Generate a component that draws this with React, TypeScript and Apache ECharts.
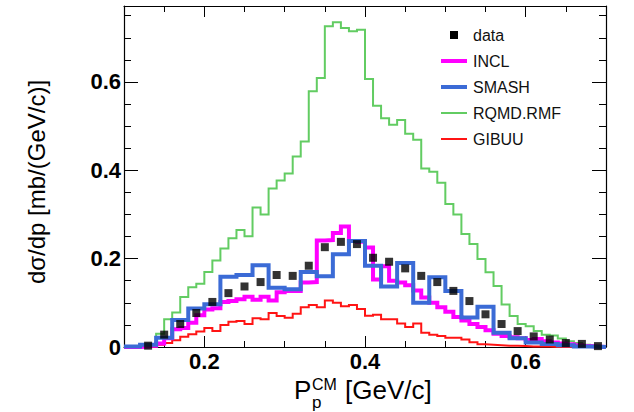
import React, { useEffect, useRef } from "react";
import * as echarts from "echarts";

// ---- data ----
const FINE_START = 0.1; // GeV/c, first edge of 0.01-wide bins
const FINE_WIDTH = 0.01;
const COARSE_START = 0.1; // first edge of 0.02-wide bins
const COARSE_WIDTH = 0.02;

// RQMD.RMF, 0.01 bins from 0.10 to 0.70
const rqmdValues = [
  0, 0, 0.001, 0.006, 0.03, 0.063, 0.078, 0.113, 0.135, 0.143,
  0.17, 0.196, 0.223, 0.246, 0.265, 0.251, 0.316, 0.3, 0.359, 0.377,
  0.393, 0.431, 0.465, 0.579, 0.609, 0.726, 0.735, 0.722, 0.715, 0.718,
  0.607, 0.546, 0.518, 0.503, 0.514, 0.483, 0.469, 0.404, 0.397, 0.372,
  0.324, 0.3, 0.256, 0.233, 0.199, 0.169, 0.138, 0.096, 0.07, 0.052,
  0.047, 0.036, 0.028, 0.026, 0.019, 0.013, 0.009, 0.005, 0.003, 0.002,
];

// GIBUU, 0.01 bins from 0.10 to 0.70
const gibuuValues = [
  0, 0, 0, 0.001, 0.005, 0.009, 0.015, 0.023, 0.029, 0.035,
  0.043, 0.036, 0.05, 0.057, 0.059, 0.052, 0.065, 0.063, 0.077, 0.07,
  0.066, 0.075, 0.09, 0.095, 0.09, 0.105, 0.1, 0.092, 0.095, 0.086,
  0.071, 0.073, 0.063, 0.063, 0.053, 0.045, 0.053, 0.032, 0.028, 0.025,
  0.021, 0.021, 0.017, 0.011, 0.006, 0.005, 0.004, 0.003, 0.003, 0.002,
  0.001, 0.001, 0.001, 0, 0, 0, 0, 0, 0, 0,
];

// INCL, 0.01 bins from 0.10 to 0.70
const inclValues = [
  0, 0, 0.001, 0.003, 0.008, 0.02, 0.04, 0.043, 0.055, 0.072,
  0.085, 0.088, 0.102, 0.104, 0.108, 0.114, 0.107, 0.114, 0.105, 0.124,
  0.127, 0.127, 0.146, 0.147, 0.241, 0.242, 0.258, 0.273, 0.24, 0.238,
  0.225, 0.153, 0.183, 0.15, 0.146, 0.14, 0.128, 0.112, 0.1, 0.09,
  0.08, 0.068, 0.06, 0.052, 0.045, 0.038, 0.03, 0.025, 0.022, 0.02,
  0.016, 0.018, 0.013, 0.01, 0.008, 0.006, 0.004, 0.002, 0.001, 0,
];

// SMASH, 0.02 bins from 0.10 to 0.70
const smashValues = [
  0.001, 0.005, 0.021, 0.061, 0.087, 0.097, 0.159, 0.163, 0.185, 0.134,
  0.131, 0.17, 0.16, 0.21, 0.24, 0.184, 0.137, 0.19, 0.1, 0.158,
  0.127, 0.067, 0.091, 0.032, 0.02, 0.01, 0.007, 0.004, 0.001, 0,
];

// measured data, at bin centres 0.13 ... 0.69
const dataX = [
  0.13, 0.15, 0.17, 0.19, 0.21, 0.23, 0.25, 0.27, 0.29, 0.31,
  0.33, 0.35, 0.37, 0.39, 0.41, 0.43, 0.45, 0.47, 0.49, 0.51,
  0.53, 0.55, 0.57, 0.59, 0.61, 0.63, 0.65, 0.67, 0.69,
];
const dataY = [
  0.003, 0.028, 0.052, 0.077, 0.102, 0.122, 0.137, 0.147, 0.163, 0.161,
  0.184, 0.226, 0.238, 0.233, 0.202, 0.193, 0.178, 0.161, 0.147, 0.127,
  0.104, 0.074, 0.052, 0.036, 0.024, 0.017, 0.009, 0.007, 0.002,
];

// axis ticks / labels
const X_MIN = 0.1;
const X_MAX = 0.7;
const Y_MIN = 0;
const Y_MAX = 0.772;
const xMajorTicks = [0.2, 0.4, 0.6];
const xMinorTicks = [0.15, 0.25, 0.3, 0.35, 0.45, 0.5, 0.55, 0.65];
const yMajorTicks = [0, 0.2, 0.4, 0.6];
const yMinorTicks = [0.05, 0.1, 0.15, 0.25, 0.3, 0.35, 0.45, 0.5, 0.55, 0.65, 0.7, 0.75];

const legendNames = ["data", "INCL", "SMASH", "RQMD.RMF", "GIBUU"];

// ---- styling ----
const FONT = "Liberation Sans";
const C_INCL = "#ff00ff";
const C_SMASH = "#3b6bd6";
const C_RQMD = "#62cc62";
const C_GIBUU = "#ff1414";

function histSteps(start: number, width: number, vals: number[]) {
  const pts = vals.map((v, i) => [+(start + i * width).toFixed(4), v]);
  pts.push([+(start + vals.length * width).toFixed(4), vals[vals.length - 1]]);
  return pts;
}

function fmt(v: number) {
  return v === 0 ? "0" : v.toFixed(1);
}

export default function App() {
  const ref = useRef<HTMLDivElement>(null);

  useEffect(() => {
    if (!ref.current) return;
    const chart = echarts.init(ref.current, undefined, { renderer: "svg" });

    const tickLine = { color: "#000", width: 1 };
    const mkX = (pos: string, major: boolean, line: boolean, labels: boolean) => ({
      type: "value",
      gridIndex: 0,
      position: pos,
      min: X_MIN,
      max: X_MAX,
      splitLine: { show: false },
      axisLine: { show: line, onZero: false, lineStyle: { color: "#000", width: 1.2 } },
      axisTick: {
        show: true,
        inside: true,
        length: major ? 11 : 6,
        customValues: major ? xMajorTicks : xMinorTicks,
        lineStyle: tickLine,
      },
      axisLabel: labels
        ? {
            show: true,
            customValues: xMajorTicks,
            formatter: fmt,
            fontFamily: FONT,
            fontWeight: "bold",
            fontSize: 22,
            color: "#000",
            margin: 3,
          }
        : { show: false },
    });
    const mkY = (pos: string, major: boolean, line: boolean, labels: boolean) => ({
      type: "value",
      gridIndex: 0,
      position: pos,
      min: Y_MIN,
      max: Y_MAX,
      splitLine: { show: false },
      axisLine: { show: line, onZero: false, lineStyle: { color: "#000", width: 1.2 } },
      axisTick: {
        show: true,
        inside: true,
        length: major ? 14 : 7,
        customValues: major ? yMajorTicks : yMinorTicks,
        lineStyle: tickLine,
      },
      axisLabel: labels
        ? {
            show: true,
            customValues: yMajorTicks,
            formatter: fmt,
            fontFamily: FONT,
            fontWeight: "bold",
            fontSize: 22,
            color: "#000",
            margin: 3,
          }
        : { show: false },
    });

    const legendRowY = [35, 61, 87, 113, 139];
    const legendColors = ["#000", C_INCL, C_SMASH, C_RQMD, C_GIBUU];
    const legendWidths = [0, 4, 4, 2, 2];
    const legendGraphics: any[] = [];
    legendNames.forEach((name, i) => {
      if (i === 0) {
        legendGraphics.push({
          type: "rect",
          shape: { x: 450, y: legendRowY[i] - 4, width: 8, height: 8 },
          style: { fill: "#000" },
        });
      } else {
        legendGraphics.push({
          type: "line",
          shape: { x1: 441, y1: legendRowY[i], x2: 467, y2: legendRowY[i] },
          style: { stroke: legendColors[i], lineWidth: legendWidths[i] },
        });
      }
      legendGraphics.push({
        type: "text",
        x: 473,
        y: legendRowY[i],
        style: {
          text: name,
          fontFamily: FONT,
          fontSize: 16,
          fill: "#111",
          align: "left",
          verticalAlign: "middle",
        },
      });
    });

    const titleGraphics = [
      {
        type: "text",
        x: 36,
        y: 182,
        rotation: Math.PI / 2,
        style: {
          text: "dσ/dp [mb/(GeV/c)]",
          fontFamily: FONT,
          fontSize: 24,
          fill: "#000",
          align: "center",
          verticalAlign: "middle",
        },
      },
      {
        type: "text",
        x: 294,
        y: 390,
        style: { text: "P", fontFamily: FONT, fontSize: 26, fill: "#000", align: "left", verticalAlign: "middle" },
      },
      {
        type: "text",
        x: 312,
        y: 384,
        style: { text: "CM", fontFamily: FONT, fontSize: 16, fill: "#000", align: "left", verticalAlign: "middle" },
      },
      {
        type: "text",
        x: 312,
        y: 402,
        style: { text: "p", fontFamily: FONT, fontSize: 17, fill: "#000", align: "left", verticalAlign: "middle" },
      },
      {
        type: "text",
        x: 345,
        y: 390,
        style: { text: "[GeV/c]", fontFamily: FONT, fontSize: 26, fill: "#000", align: "left", verticalAlign: "middle" },
      },
    ];

    const lineSeries = (name: string, data: number[][], color: string, width: number, z: number) => ({
      name,
      type: "line",
      step: "end",
      data,
      xAxisIndex: 0,
      yAxisIndex: 0,
      symbol: "none",
      showSymbol: false,
      clip: true,
      z,
      lineStyle: { color, width, join: "miter" },
      itemStyle: { color },
    });

    chart.setOption({
      animation: false,
      backgroundColor: "#fff",
      grid: { left: 124, right: 28, top: 6, bottom: 65, containLabel: false },
      xAxis: [
        mkX("bottom", true, true, true),
        mkX("bottom", false, false, false),
        mkX("top", true, true, false),
        mkX("top", false, false, false),
      ],
      yAxis: [
        mkY("left", true, true, true),
        mkY("left", false, false, false),
        mkY("right", true, true, false),
        mkY("right", false, false, false),
      ],
      series: [
        lineSeries("RQMD.RMF", histSteps(FINE_START, FINE_WIDTH, rqmdValues), C_RQMD, 2, 2),
        lineSeries("GIBUU", histSteps(FINE_START, FINE_WIDTH, gibuuValues), C_GIBUU, 2, 3),
        lineSeries("INCL", histSteps(FINE_START, FINE_WIDTH, inclValues), C_INCL, 4, 4),
        lineSeries("SMASH", histSteps(COARSE_START, COARSE_WIDTH, smashValues), C_SMASH, 4, 5),
        {
          name: "data",
          type: "scatter",
          xAxisIndex: 0,
          yAxisIndex: 0,
          symbol: "rect",
          symbolSize: 8,
          z: 10,
          itemStyle: { color: "#000" },
          data: dataX.map((x, i) => [x, dataY[i]]),
        },
      ],
      graphic: [...legendGraphics, ...titleGraphics],
    });

    return () => chart.dispose();
  }, []);

  return (
    <div
      ref={ref}
      style={{ position: "absolute", left: 0, top: 0, width: 634, height: 412 }}
    />
  );
}
